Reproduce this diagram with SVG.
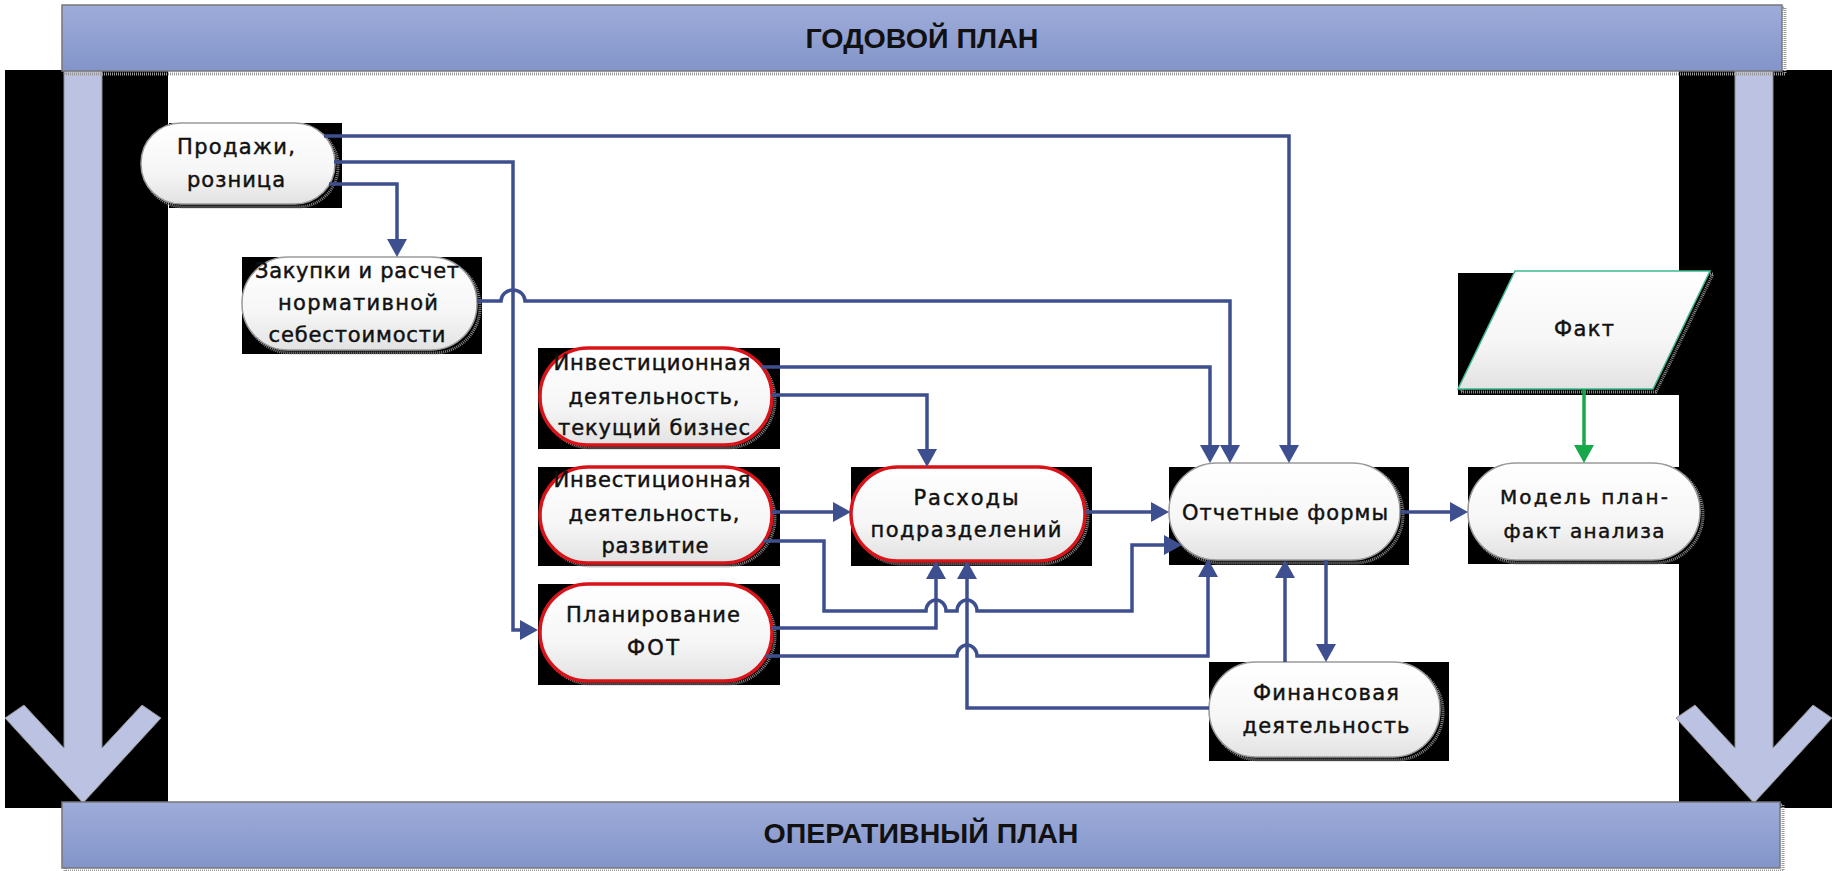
<svg xmlns="http://www.w3.org/2000/svg" width="1832" height="871" viewBox="0 0 1832 871">
<defs>
  <linearGradient id="barG" x1="0" y1="0" x2="0" y2="1">
    <stop offset="0" stop-color="#9eacd9"/>
    <stop offset="1" stop-color="#8294c9"/>
  </linearGradient>
  <linearGradient id="nodeG" x1="0" y1="0" x2="0" y2="1">
    <stop offset="0" stop-color="#ffffff"/>
    <stop offset="0.6" stop-color="#f6f6f6"/>
    <stop offset="1" stop-color="#e2e2e2"/>
  </linearGradient>
  <marker id="arr" markerUnits="userSpaceOnUse" markerWidth="20" markerHeight="20" refX="14" refY="10" orient="auto">
    <path d="M0,0 L18,10 L0,20 z" fill="#3e4f8f"/>
  </marker>
  <marker id="arrG" markerUnits="userSpaceOnUse" markerWidth="20" markerHeight="20" refX="14" refY="10" orient="auto">
    <path d="M0,0 L18,10 L0,20 z" fill="#17a84b"/>
  </marker>
  <style>
    .blk{fill:#000}
    .bar{fill:url(#barG);stroke:#777;stroke-width:1.5}
    .barsh{fill:none;stroke:#999;stroke-width:3;stroke-dasharray:1 1}
    .bt{font-family:"Liberation Sans",Arial,sans-serif;font-weight:bold;font-size:28px;fill:#111;text-anchor:middle}
    .shaft{fill:#bcc3e2;stroke:#8c8c8c;stroke-width:1}
    .nd{fill:url(#nodeG);stroke:#9a9a9a;stroke-width:1.5}
    .red{fill:url(#nodeG);stroke:#d8141a;stroke-width:3.5}
    .sh{fill:none;stroke:#8a8a8a;stroke-width:3;stroke-dasharray:1 1}
    .t{font-family:"DejaVu Sans",Verdana,sans-serif;font-size:21px;fill:#111;stroke:#111;stroke-width:0.45;text-anchor:middle}
    .c{fill:none;stroke:#3e4f8f;stroke-width:3.5;stroke-linejoin:miter}
    .g{fill:none;stroke:#17a84b;stroke-width:3.5}
  </style>
</defs>

<rect x="0" y="0" width="1832" height="871" fill="#ffffff"/>

<g id="frame">
  <rect class="blk" x="5" y="70" width="163" height="738"/>
  <rect class="blk" x="1679" y="70" width="153" height="738"/>
  <path class="shaft" d="M64,70 L102,70 L102,748 L142,705 L161,718 L83,803 L5,718 L24,705 L64,748 Z"/>
  <path class="shaft" d="M1735,70 L1773,70 L1773,748 L1813,705 L1832,718 L1754,803 L1676,718 L1695,705 L1735,748 Z"/>
</g>

<g id="top-bar">
  <rect class="barsh" x="65" y="8" width="1720" height="66"/>
  <rect class="bar" x="62" y="5" width="1720" height="66"/>
  <text class="bt" x="922" y="48" textLength="233" lengthAdjust="spacingAndGlyphs">ГОДОВОЙ ПЛАН</text>
</g>

<g id="bottom-bar">
  <rect class="barsh" x="65" y="805" width="1718" height="66"/>
  <rect class="bar" x="62" y="802" width="1718" height="66"/>
  <text class="bt" x="921" y="843" textLength="315" lengthAdjust="spacingAndGlyphs">ОПЕРАТИВНЫЙ ПЛАН</text>
</g>

<g id="n-prodazhi">
  <rect class="blk" x="169" y="123" width="173" height="85"/>
  <rect class="sh" x="144" y="126" width="194" height="81" rx="40" ry="40"/>
  <rect class="nd" x="141" y="123" width="194" height="81" rx="40" ry="40"/>
  <text class="t" x="236" y="154" textLength="118">Продажи,</text>
  <text class="t" x="236" y="187" textLength="98">розница</text>
</g>

<g id="n-zakupki">
  <rect class="blk" x="242" y="257" width="240" height="97"/>
  <rect class="sh" x="245" y="260" width="235" height="93" rx="46" ry="46"/>
  <rect class="nd" x="242" y="257" width="235" height="93" rx="46" ry="46"/>
  <text class="t" x="357" y="278" textLength="204">Закупки и расчет</text>
  <text class="t" x="358" y="310" textLength="160">нормативной</text>
  <text class="t" x="357" y="342" textLength="177">себестоимости</text>
</g>

<g id="n-invest1">
  <rect class="blk" x="538" y="348" width="242" height="101"/>
  <rect class="sh" x="543" y="351" width="232" height="97" rx="48" ry="48"/>
  <rect class="red" x="540" y="348" width="232" height="97" rx="48" ry="48"/>
  <text class="t" x="652" y="370" textLength="197">Инвестиционная</text>
  <text class="t" x="654" y="404" textLength="171">деятельность,</text>
  <text class="t" x="654" y="435" textLength="192">текущий бизнес</text>
</g>

<g id="n-invest2">
  <rect class="blk" x="538" y="467" width="242" height="99"/>
  <rect class="sh" x="543" y="470" width="232" height="96" rx="48" ry="48"/>
  <rect class="red" x="540" y="467" width="232" height="96" rx="48" ry="48"/>
  <text class="t" x="652" y="487" textLength="197">Инвестиционная</text>
  <text class="t" x="654" y="521" textLength="171">деятельность,</text>
  <text class="t" x="655" y="553" textLength="107">развитие</text>
</g>

<g id="n-fot">
  <rect class="blk" x="538" y="584" width="242" height="101"/>
  <rect class="sh" x="543" y="587" width="232" height="97" rx="48" ry="48"/>
  <rect class="red" x="540" y="584" width="232" height="97" rx="48" ry="48"/>
  <text class="t" x="653" y="622" textLength="174">Планирование</text>
  <text class="t" x="653" y="655" textLength="52">ФОТ</text>
</g>

<g id="n-raskhody">
  <rect class="blk" x="851" y="467" width="241" height="99"/>
  <rect class="sh" x="854" y="470" width="234" height="94" rx="47" ry="47"/>
  <rect class="red" x="851" y="467" width="234" height="94" rx="47" ry="47"/>
  <text class="t" x="966" y="505" textLength="105">Расходы</text>
  <text class="t" x="966" y="537" textLength="191">подразделений</text>
</g>

<g id="n-otchet">
  <rect class="blk" x="1169" y="467" width="240" height="98"/>
  <rect class="sh" x="1172" y="466" width="231" height="97" rx="48" ry="48"/>
  <rect class="nd" x="1169" y="463" width="231" height="97" rx="48" ry="48"/>
  <text class="t" x="1285" y="520" textLength="206">Отчетные формы</text>
</g>

<g id="n-model">
  <rect class="blk" x="1468" y="467" width="211" height="97"/>
  <rect class="sh" x="1471" y="466" width="232" height="97" rx="48" ry="48"/>
  <rect class="nd" x="1468" y="463" width="232" height="97" rx="48" ry="48"/>
  <text class="t" x="1584" y="504" textLength="168" style="font-size:20px">Модель план-</text>
  <text class="t" x="1584" y="538" textLength="161" style="font-size:20px">факт анализа</text>
</g>

<g id="n-fakt">
  <rect class="blk" x="1458" y="273" width="221" height="122"/>
  <path d="M1518,274 L1713,274 L1656,392 L1461,392 Z" fill="none" stroke="#8a8a8a" stroke-width="3" stroke-dasharray="1 1"/>
  <path d="M1515,271 L1710,271 L1653,389 L1458,389 Z" fill="url(#nodeG)" stroke="#3dbb8e" stroke-width="1.5"/>
  <text class="t" x="1584" y="336" textLength="60">Факт</text>
</g>

<g id="n-finans">
  <rect class="blk" x="1209" y="662" width="240" height="99"/>
  <rect class="sh" x="1212" y="665" width="231" height="95" rx="47" ry="47"/>
  <rect class="nd" x="1209" y="662" width="231" height="95" rx="47" ry="47"/>
  <text class="t" x="1326" y="700" textLength="146">Финансовая</text>
  <text class="t" x="1326" y="733" textLength="167">деятельность</text>
</g>

<g id="connectors">
  <path class="c" marker-end="url(#arr)" d="M324,136 L1289,136 L1289,459"/>
  <path class="c" marker-end="url(#arr)" d="M334,162 L513,162 L513,630 L534,630"/>
  <path class="c" marker-end="url(#arr)" d="M329,184 L397,184 L397,253"/>
  <path class="c" marker-end="url(#arr)" d="M477,301 L501,301 A12 11 0 0 1 525,301 L1230,301 L1230,459"/>
  <path class="c" marker-end="url(#arr)" d="M762,367 L1210,367 L1210,459"/>
  <path class="c" marker-end="url(#arr)" d="M772,395 L927,395 L927,463"/>
  <path class="c" marker-end="url(#arr)" d="M772,512 L847,512"/>
  <path class="c" marker-end="url(#arr)" d="M764,541 L824,541 L824,611 L926,611 A10 11 0 0 1 946,611 L957,611 A10 11 0 0 1 977,611 L1132,611 L1132,545 L1178,545"/>
  <path class="c" marker-end="url(#arr)" d="M772,628 L936,628 L936,565"/>
  <path class="c" marker-end="url(#arr)" d="M766,656 L957,656 A10 11 0 0 1 977,656 L1208,656 L1208,563"/>
  <path class="c" marker-end="url(#arr)" d="M1209,708 L967,708 L967,565"/>
  <path class="c" marker-end="url(#arr)" d="M1285,662 L1285,564"/>
  <path class="c" marker-end="url(#arr)" d="M1326,560 L1326,658"/>
  <path class="c" marker-end="url(#arr)" d="M1085,512 L1165,512"/>
  <path class="c" marker-end="url(#arr)" d="M1400,512 L1464,512"/>
  <path class="g" marker-end="url(#arrG)" d="M1584,389 L1584,459"/>
</g>
</svg>
